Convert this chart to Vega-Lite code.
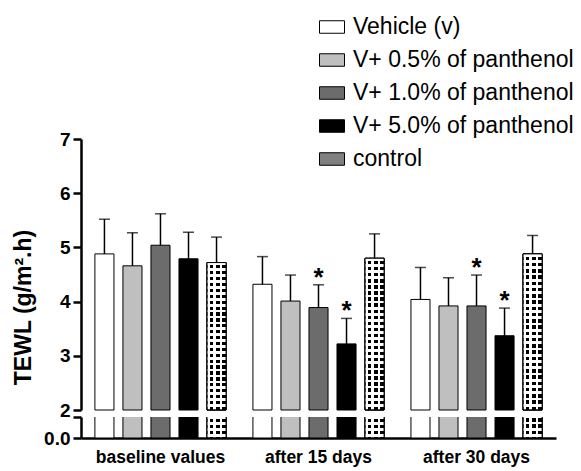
{
  "$schema": "https://vega.github.io/schema/vega-lite/v6.json",
  "padding": {"left": 12, "top": 14, "right": 0, "bottom": 5},
  "config": {
    "font": "Liberation Sans",
    "view": {"stroke": null},
    "axis": {"labelColor": "black", "titleColor": "black", "domainColor": "black", "tickColor": "black", "grid": false}
  },
  "data": {"values": [
    {"group": "baseline values", "treatment": "Vehicle (v)", "value": 4.88, "upper": 5.52, "sig": ""},
    {"group": "baseline values", "treatment": "V+ 0.5% of panthenol", "value": 4.66, "upper": 5.27, "sig": ""},
    {"group": "baseline values", "treatment": "V+ 1.0% of panthenol", "value": 5.04, "upper": 5.62, "sig": ""},
    {"group": "baseline values", "treatment": "V+ 5.0% of panthenol", "value": 4.79, "upper": 5.28, "sig": ""},
    {"group": "baseline values", "treatment": "control", "value": 4.72, "upper": 5.19, "sig": ""},
    {"group": "after 15 days", "treatment": "Vehicle (v)", "value": 4.32, "upper": 4.83, "sig": ""},
    {"group": "after 15 days", "treatment": "V+ 0.5% of panthenol", "value": 4.01, "upper": 4.49, "sig": ""},
    {"group": "after 15 days", "treatment": "V+ 1.0% of panthenol", "value": 3.89, "upper": 4.31, "sig": "*"},
    {"group": "after 15 days", "treatment": "V+ 5.0% of panthenol", "value": 3.22, "upper": 3.69, "sig": "*"},
    {"group": "after 15 days", "treatment": "control", "value": 4.8, "upper": 5.25, "sig": ""},
    {"group": "after 30 days", "treatment": "Vehicle (v)", "value": 4.04, "upper": 4.63, "sig": ""},
    {"group": "after 30 days", "treatment": "V+ 0.5% of panthenol", "value": 3.92, "upper": 4.44, "sig": ""},
    {"group": "after 30 days", "treatment": "V+ 1.0% of panthenol", "value": 3.92, "upper": 4.49, "sig": "*"},
    {"group": "after 30 days", "treatment": "V+ 5.0% of panthenol", "value": 3.37, "upper": 3.88, "sig": "*"},
    {"group": "after 30 days", "treatment": "control", "value": 4.88, "upper": 5.22, "sig": ""}
  ]},
  "resolve": {"legend": {"fill": "independent"}},
  "bounds": "flush",
  "spacing": 7,
  "vconcat": [
    {
      "width": 475,
      "height": 271,
      "encoding": {
        "x": {"field": "group", "type": "nominal", "sort": ["baseline values", "after 15 days", "after 30 days"], "scale": {"paddingInner": 0.17, "paddingOuter": 0.088}, "axis": null},
        "xOffset": {"field": "treatment", "type": "nominal", "sort": ["Vehicle (v)", "V+ 0.5% of panthenol", "V+ 1.0% of panthenol", "V+ 5.0% of panthenol", "control"], "scale": {"paddingInner": 0.32, "paddingOuter": 0}}
      },
      "layer": [
        {
          "mark": {"type": "bar", "stroke": "black", "strokeWidth": 1},
          "encoding": {
            "y": {"field": "value", "type": "quantitative", "scale": {"domain": [2, 7], "zero": false, "nice": false},
              "axis": {"values": [2, 3, 4, 5, 6, 7], "title": "TEWL (g/m².h)", "titleFontSize": 23, "titleFontWeight": "bold", "titlePadding": 24, "titleY": 168,
                "labelFontSize": 19, "labelFontWeight": "bold", "labelPadding": 3, "tickSize": 8, "tickWidth": 2.5, "domainWidth": 2.5}},
            "y2": {"datum": 2},
            "fill": {"field": "treatment", "type": "nominal", "sort": ["Vehicle (v)", "V+ 0.5% of panthenol", "V+ 1.0% of panthenol", "V+ 5.0% of panthenol", "control"],
              "scale": {"range": ["#ffffff", "#bfbfbf", "#6c6c6c", "#000000", "#808080"]},
              "legend": {"title": null, "orient": "none", "legendX": 238, "legendY": -125, "labelFontSize": 23, "labelColor": "black", "labelOffset": 8, "rowPadding": 8,
                "symbolType": "M-1,-0.5H1V0.5H-1Z", "symbolSize": 625, "symbolStrokeColor": "black", "symbolStrokeWidth": 1, "labelLimit": 400}}
          }
        },
        {
          "transform": [{"filter": "datum.treatment === 'control'"}],
          "mark": {"type": "bar", "stroke": "black", "strokeWidth": 1, "fill": {"gradient": "linear", "x1": 0, "y1": 0, "x2": 1, "y2": 0, "stops": [
                  {"offset": 0, "color": "#ffffff"}, {"offset": 0.14, "color": "#ffffff"}, {"offset": 0.14, "color": "#000000"}, {"offset": 0.3333, "color": "#000000"},
                  {"offset": 0.3333, "color": "#ffffff"}, {"offset": 0.47, "color": "#ffffff"}, {"offset": 0.47, "color": "#000000"}, {"offset": 0.6667, "color": "#000000"},
                  {"offset": 0.6667, "color": "#ffffff"}, {"offset": 0.80, "color": "#ffffff"}, {"offset": 0.80, "color": "#000000"}, {"offset": 1, "color": "#000000"}]}},
          "encoding": {
            "y": {"field": "value", "type": "quantitative"},
            "y2": {"datum": 2}
          }
        },
        {
          "transform": [{"filter": "datum.treatment === 'control'"}],
          "mark": {"type": "bar", "stroke": "black", "strokeWidth": 1, "fill": {"gradient": "linear", "x1": 0, "y1": 0, "x2": 0, "y2": 1, "stops": [
            {"offset": 0, "color": "#ffffff"}, {"offset": 0.018, "color": "#ffffff"}, {"offset": 0.018, "color": "rgba(255,255,255,0)"}, {"offset": 0.04, "color": "rgba(255,255,255,0)"},
            {"offset": 0.04, "color": "#ffffff"}, {"offset": 0.058, "color": "#ffffff"}, {"offset": 0.058, "color": "rgba(255,255,255,0)"}, {"offset": 0.08, "color": "rgba(255,255,255,0)"},
            {"offset": 0.08, "color": "#ffffff"}, {"offset": 0.098, "color": "#ffffff"}, {"offset": 0.098, "color": "rgba(255,255,255,0)"}, {"offset": 0.12, "color": "rgba(255,255,255,0)"},
            {"offset": 0.12, "color": "#ffffff"}, {"offset": 0.138, "color": "#ffffff"}, {"offset": 0.138, "color": "rgba(255,255,255,0)"}, {"offset": 0.16, "color": "rgba(255,255,255,0)"},
            {"offset": 0.16, "color": "#ffffff"}, {"offset": 0.178, "color": "#ffffff"}, {"offset": 0.178, "color": "rgba(255,255,255,0)"}, {"offset": 0.20, "color": "rgba(255,255,255,0)"},
            {"offset": 0.20, "color": "#ffffff"}, {"offset": 0.218, "color": "#ffffff"}, {"offset": 0.218, "color": "rgba(255,255,255,0)"}, {"offset": 0.24, "color": "rgba(255,255,255,0)"},
            {"offset": 0.24, "color": "#ffffff"}, {"offset": 0.258, "color": "#ffffff"}, {"offset": 0.258, "color": "rgba(255,255,255,0)"}, {"offset": 0.28, "color": "rgba(255,255,255,0)"},
            {"offset": 0.28, "color": "#ffffff"}, {"offset": 0.298, "color": "#ffffff"}, {"offset": 0.298, "color": "rgba(255,255,255,0)"}, {"offset": 0.32, "color": "rgba(255,255,255,0)"},
            {"offset": 0.32, "color": "#ffffff"}, {"offset": 0.338, "color": "#ffffff"}, {"offset": 0.338, "color": "rgba(255,255,255,0)"}, {"offset": 0.36, "color": "rgba(255,255,255,0)"},
            {"offset": 0.36, "color": "#ffffff"}, {"offset": 0.378, "color": "#ffffff"}, {"offset": 0.378, "color": "rgba(255,255,255,0)"}, {"offset": 0.40, "color": "rgba(255,255,255,0)"},
            {"offset": 0.40, "color": "#ffffff"}, {"offset": 0.418, "color": "#ffffff"}, {"offset": 0.418, "color": "rgba(255,255,255,0)"}, {"offset": 0.44, "color": "rgba(255,255,255,0)"},
            {"offset": 0.44, "color": "#ffffff"}, {"offset": 0.458, "color": "#ffffff"}, {"offset": 0.458, "color": "rgba(255,255,255,0)"}, {"offset": 0.48, "color": "rgba(255,255,255,0)"},
            {"offset": 0.48, "color": "#ffffff"}, {"offset": 0.498, "color": "#ffffff"}, {"offset": 0.498, "color": "rgba(255,255,255,0)"}, {"offset": 0.52, "color": "rgba(255,255,255,0)"},
            {"offset": 0.52, "color": "#ffffff"}, {"offset": 0.538, "color": "#ffffff"}, {"offset": 0.538, "color": "rgba(255,255,255,0)"}, {"offset": 0.56, "color": "rgba(255,255,255,0)"},
            {"offset": 0.56, "color": "#ffffff"}, {"offset": 0.578, "color": "#ffffff"}, {"offset": 0.578, "color": "rgba(255,255,255,0)"}, {"offset": 0.60, "color": "rgba(255,255,255,0)"},
            {"offset": 0.60, "color": "#ffffff"}, {"offset": 0.618, "color": "#ffffff"}, {"offset": 0.618, "color": "rgba(255,255,255,0)"}, {"offset": 0.64, "color": "rgba(255,255,255,0)"},
            {"offset": 0.64, "color": "#ffffff"}, {"offset": 0.658, "color": "#ffffff"}, {"offset": 0.658, "color": "rgba(255,255,255,0)"}, {"offset": 0.68, "color": "rgba(255,255,255,0)"},
            {"offset": 0.68, "color": "#ffffff"}, {"offset": 0.698, "color": "#ffffff"}, {"offset": 0.698, "color": "rgba(255,255,255,0)"}, {"offset": 0.72, "color": "rgba(255,255,255,0)"},
            {"offset": 0.72, "color": "#ffffff"}, {"offset": 0.738, "color": "#ffffff"}, {"offset": 0.738, "color": "rgba(255,255,255,0)"}, {"offset": 0.76, "color": "rgba(255,255,255,0)"},
            {"offset": 0.76, "color": "#ffffff"}, {"offset": 0.778, "color": "#ffffff"}, {"offset": 0.778, "color": "rgba(255,255,255,0)"}, {"offset": 0.80, "color": "rgba(255,255,255,0)"},
            {"offset": 0.80, "color": "#ffffff"}, {"offset": 0.818, "color": "#ffffff"}, {"offset": 0.818, "color": "rgba(255,255,255,0)"}, {"offset": 0.84, "color": "rgba(255,255,255,0)"},
            {"offset": 0.84, "color": "#ffffff"}, {"offset": 0.858, "color": "#ffffff"}, {"offset": 0.858, "color": "rgba(255,255,255,0)"}, {"offset": 0.88, "color": "rgba(255,255,255,0)"},
            {"offset": 0.88, "color": "#ffffff"}, {"offset": 0.898, "color": "#ffffff"}, {"offset": 0.898, "color": "rgba(255,255,255,0)"}, {"offset": 0.92, "color": "rgba(255,255,255,0)"},
            {"offset": 0.92, "color": "#ffffff"}, {"offset": 0.938, "color": "#ffffff"}, {"offset": 0.938, "color": "rgba(255,255,255,0)"}, {"offset": 0.96, "color": "rgba(255,255,255,0)"},
            {"offset": 0.96, "color": "#ffffff"}, {"offset": 0.978, "color": "#ffffff"}, {"offset": 0.978, "color": "rgba(255,255,255,0)"}, {"offset": 1, "color": "rgba(255,255,255,0)"}]}},
          "encoding": {
            "y": {"field": "value", "type": "quantitative"},
            "y2": {"datum": 2}
          }
        },
        {
          "mark": {"type": "rule", "color": "black", "strokeWidth": 1.5},
          "encoding": {"y": {"field": "value", "type": "quantitative"}, "y2": {"field": "upper"}}
        },
        {
          "mark": {"type": "tick", "color": "black", "thickness": 1.5, "size": 11},
          "encoding": {"y": {"field": "upper", "type": "quantitative"}}
        },
        {
          "mark": {"type": "text", "fontSize": 26, "fontWeight": "bold", "baseline": "alphabetic", "dy": 1, "color": "black"},
          "encoding": {"y": {"field": "upper", "type": "quantitative"}, "text": {"field": "sig"}}
        }
      ]
    },
    {
      "width": 475,
      "height": 21,
      "encoding": {
        "x": {"field": "group", "type": "nominal", "sort": ["baseline values", "after 15 days", "after 30 days"], "scale": {"paddingInner": 0.17, "paddingOuter": 0.088},
          "axis": {"title": null, "labelAngle": 0, "labelFontSize": 17.5, "labelFontWeight": "bold", "ticks": false, "labelPadding": 10, "domainWidth": 2.5}},
        "xOffset": {"field": "treatment", "type": "nominal", "sort": ["Vehicle (v)", "V+ 0.5% of panthenol", "V+ 1.0% of panthenol", "V+ 5.0% of panthenol", "control"], "scale": {"paddingInner": 0.32, "paddingOuter": 0}}
      },
      "layer": [
        {
          "mark": {"type": "bar", "stroke": "black", "strokeWidth": 1, "clip": true},
          "encoding": {
            "y": {"field": "value", "type": "quantitative", "scale": {"domain": [0, 1], "nice": false},
              "axis": {"values": [0, 1], "labelExpr": "datum.value === 0 ? '0.0' : ''", "title": null, "labelFontSize": 19, "labelFontWeight": "bold", "labelPadding": 3, "tickSize": 8, "tickWidth": 2.5, "domainWidth": 2.5}},
            "y2": {"datum": 0},
            "fill": {"field": "treatment", "type": "nominal", "sort": ["Vehicle (v)", "V+ 0.5% of panthenol", "V+ 1.0% of panthenol", "V+ 5.0% of panthenol", "control"], "legend": null}
          }
        },
        {
          "transform": [{"filter": "datum.treatment === 'control'"}],
          "mark": {"type": "bar", "stroke": "black", "strokeWidth": 1, "clip": true, "fill": {"gradient": "linear", "x1": 0, "y1": 0, "x2": 1, "y2": 0, "stops": [
                  {"offset": 0, "color": "#ffffff"}, {"offset": 0.14, "color": "#ffffff"}, {"offset": 0.14, "color": "#000000"}, {"offset": 0.3333, "color": "#000000"},
                  {"offset": 0.3333, "color": "#ffffff"}, {"offset": 0.47, "color": "#ffffff"}, {"offset": 0.47, "color": "#000000"}, {"offset": 0.6667, "color": "#000000"},
                  {"offset": 0.6667, "color": "#ffffff"}, {"offset": 0.80, "color": "#ffffff"}, {"offset": 0.80, "color": "#000000"}, {"offset": 1, "color": "#000000"}]}},
          "encoding": {
            "y": {"field": "value", "type": "quantitative"},
            "y2": {"datum": 0}
          }
        },
        {
          "transform": [{"filter": "datum.treatment === 'control'"}],
          "mark": {"type": "bar", "stroke": "black", "strokeWidth": 1, "clip": true, "fill": {"gradient": "linear", "x1": 0, "y1": 0, "x2": 0, "y2": 1, "stops": [
            {"offset": 0, "color": "#ffffff"}, {"offset": 0.027, "color": "#ffffff"}, {"offset": 0.027, "color": "rgba(255,255,255,0)"}, {"offset": 0.06, "color": "rgba(255,255,255,0)"},
            {"offset": 0.06, "color": "#ffffff"}, {"offset": 0.087, "color": "#ffffff"}, {"offset": 0.087, "color": "rgba(255,255,255,0)"}, {"offset": 0.12, "color": "rgba(255,255,255,0)"},
            {"offset": 0.12, "color": "#ffffff"}, {"offset": 0.147, "color": "#ffffff"}, {"offset": 0.147, "color": "rgba(255,255,255,0)"}, {"offset": 0.18, "color": "rgba(255,255,255,0)"},
            {"offset": 0.18, "color": "#ffffff"}, {"offset": 0.207, "color": "#ffffff"}, {"offset": 0.207, "color": "rgba(255,255,255,0)"}, {"offset": 0.24, "color": "rgba(255,255,255,0)"},
            {"offset": 0.24, "color": "#ffffff"}, {"offset": 0.267, "color": "#ffffff"}, {"offset": 0.267, "color": "rgba(255,255,255,0)"}, {"offset": 0.30, "color": "rgba(255,255,255,0)"},
            {"offset": 0.30, "color": "#ffffff"}, {"offset": 0.327, "color": "#ffffff"}, {"offset": 0.327, "color": "rgba(255,255,255,0)"}, {"offset": 0.36, "color": "rgba(255,255,255,0)"},
            {"offset": 0.36, "color": "#ffffff"}, {"offset": 0.387, "color": "#ffffff"}, {"offset": 0.387, "color": "rgba(255,255,255,0)"}, {"offset": 0.42, "color": "rgba(255,255,255,0)"},
            {"offset": 0.42, "color": "#ffffff"}, {"offset": 0.447, "color": "#ffffff"}, {"offset": 0.447, "color": "rgba(255,255,255,0)"}, {"offset": 0.48, "color": "rgba(255,255,255,0)"},
            {"offset": 0.48, "color": "#ffffff"}, {"offset": 0.507, "color": "#ffffff"}, {"offset": 0.507, "color": "rgba(255,255,255,0)"}, {"offset": 0.54, "color": "rgba(255,255,255,0)"},
            {"offset": 0.54, "color": "#ffffff"}, {"offset": 0.567, "color": "#ffffff"}, {"offset": 0.567, "color": "rgba(255,255,255,0)"}, {"offset": 0.60, "color": "rgba(255,255,255,0)"},
            {"offset": 0.60, "color": "#ffffff"}, {"offset": 0.627, "color": "#ffffff"}, {"offset": 0.627, "color": "rgba(255,255,255,0)"}, {"offset": 0.66, "color": "rgba(255,255,255,0)"},
            {"offset": 0.66, "color": "#ffffff"}, {"offset": 0.687, "color": "#ffffff"}, {"offset": 0.687, "color": "rgba(255,255,255,0)"}, {"offset": 0.72, "color": "rgba(255,255,255,0)"},
            {"offset": 0.72, "color": "#ffffff"}, {"offset": 0.747, "color": "#ffffff"}, {"offset": 0.747, "color": "rgba(255,255,255,0)"}, {"offset": 0.78, "color": "rgba(255,255,255,0)"},
            {"offset": 0.78, "color": "#ffffff"}, {"offset": 0.807, "color": "#ffffff"}, {"offset": 0.807, "color": "rgba(255,255,255,0)"}, {"offset": 0.84, "color": "rgba(255,255,255,0)"},
            {"offset": 0.84, "color": "#ffffff"}, {"offset": 0.867, "color": "#ffffff"}, {"offset": 0.867, "color": "rgba(255,255,255,0)"}, {"offset": 0.90, "color": "rgba(255,255,255,0)"},
            {"offset": 0.90, "color": "#ffffff"}, {"offset": 0.927, "color": "#ffffff"}, {"offset": 0.927, "color": "rgba(255,255,255,0)"}, {"offset": 0.96, "color": "rgba(255,255,255,0)"},
            {"offset": 0.96, "color": "#ffffff"}, {"offset": 0.987, "color": "#ffffff"}, {"offset": 0.987, "color": "rgba(255,255,255,0)"}, {"offset": 1, "color": "rgba(255,255,255,0)"}]}},
          "encoding": {
            "y": {"field": "value", "type": "quantitative"},
            "y2": {"datum": 0}
          }
        }
      ]
    }
  ]
}
